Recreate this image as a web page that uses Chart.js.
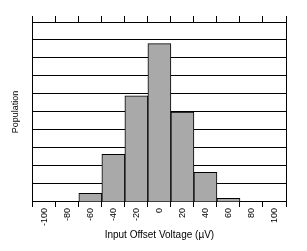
<!DOCTYPE html>
<html>
<head>
<meta charset="utf-8">
<script src="https://cdn.jsdelivr.net/npm/chart.js@4.4.1/dist/chart.umd.min.js"></script>
<style>
  html, body { margin: 0; padding: 0; background: #fff; }
  canvas { display: block; }
</style>
</head>
<body>
<canvas id="histChart" width="307" height="251"></canvas>
<script>
// bins of input offset voltage (uV) and population
const bins = ['-100', '-80', '-60', '-40', '-20', '0', '20', '40', '60', '80', '100'];
const population = [0, 0, 0.48, 2.65, 5.9, 8.8, 5.0, 1.65, 0.2, 0, 0];
const yMin = 0;
const yMax = 10;

Chart.defaults.font.family = '"Liberation Sans", Arial, sans-serif';
Chart.defaults.color = '#000';

const ctx = document.getElementById('histChart').getContext('2d');
const histChart = new Chart(ctx, {
    type: 'bar',
    data: {
        labels: bins,
        datasets: [{
            data: population,
            backgroundColor: '#a9a9a9',
            borderColor: '#000',
            borderWidth: 1,
            barPercentage: 1,
            categoryPercentage: 1
        }]
    },
    options: {
        responsive: false,
        animation: false,
        layout: {
            padding: { left: 6, right: 21, top: 16, bottom: 8 }
        },
        plugins: {
            legend: { display: false },
            tooltip: { enabled: false }
        },
        scales: {
            x: {
                position: 'bottom',
                offset: true,
                grid: {
                    offset: true,
                    drawOnChartArea: false,
                    color: '#000',
                    tickLength: 5
                },
                border: { color: '#000' },
                ticks: {
                    minRotation: 90,
                    maxRotation: 90,
                    padding: 1,
                    autoSkip: false,
                    font: { size: 9 }
                },
                title: {
                    display: true,
                    text: 'Input Offset Voltage (µV)',
                    font: { size: 10 },
                    padding: { top: 2, bottom: 2 }
                }
            },
            xTop: {
                type: 'category',
                labels: bins,
                position: 'top',
                offset: true,
                grid: {
                    offset: true,
                    drawOnChartArea: false,
                    color: '#000',
                    tickLength: 6
                },
                border: { color: '#000' },
                ticks: { display: false }
            },
            y: {
                min: yMin,
                max: yMax,
                ticks: { display: false, stepSize: 1 },
                grid: { color: '#000', drawTicks: false },
                border: { color: '#000' },
                title: {
                    display: true,
                    text: 'Population',
                    font: { size: 9 },
                    padding: { top: 4, bottom: 12 }
                }
            },
            yRight: {
                position: 'right',
                ticks: { display: false },
                grid: { display: false, drawTicks: false },
                border: { display: true, color: '#000' }
            }
        }
    }
});
</script>
</body>
</html>
